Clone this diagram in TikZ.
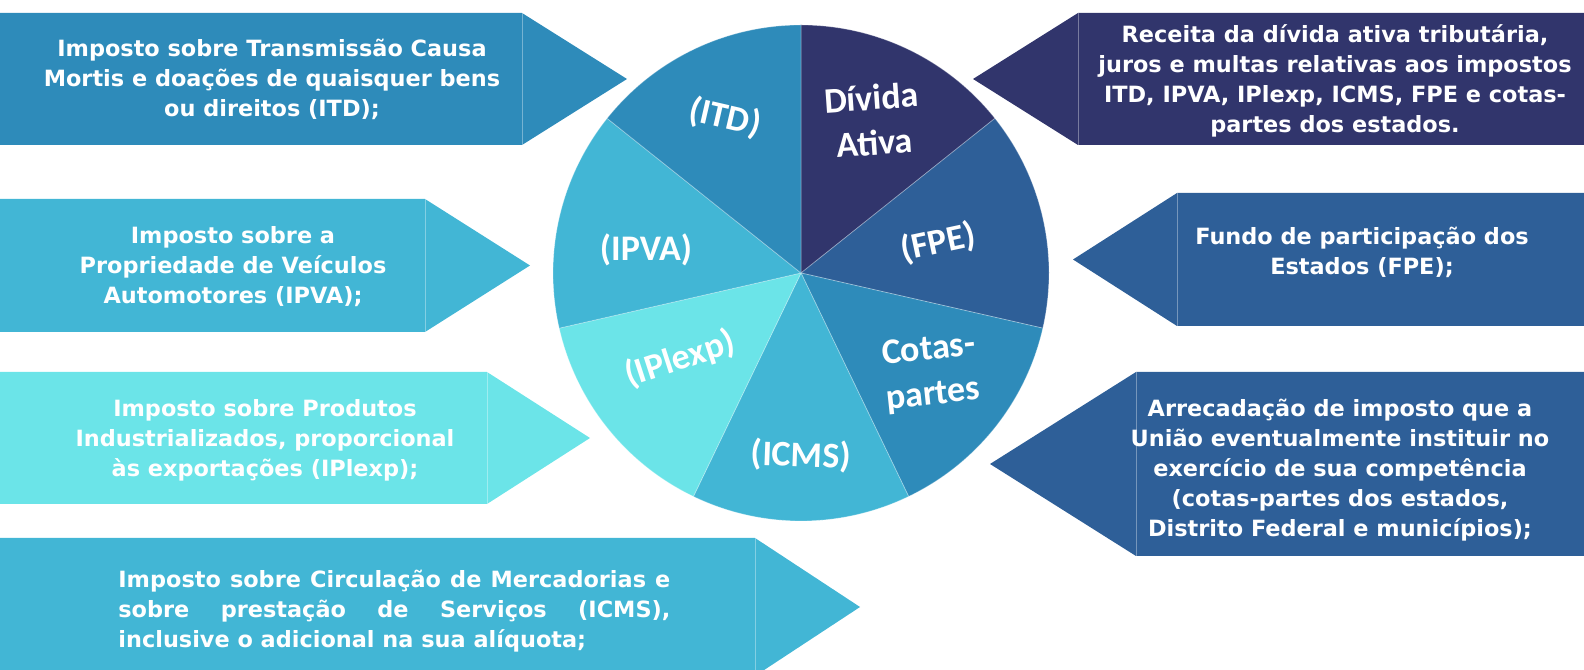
\documentclass[tikz,border=0pt]{standalone}
\usepackage{fontspec}
\newfontfamily\boxfamily{DejaVu Sans}
\newfontfamily\piefamily{Carlito}

\definecolor{cDA}{RGB}{49,53,108}
\definecolor{cFPE}{RGB}{46,95,152}
\definecolor{cITD}{RGB}{46,139,186}
\definecolor{cIPVA}{RGB}{66,182,213}
\definecolor{cIPI}{RGB}{107,228,232}

% Arrow box: x start, x end of body, x tip, y top, y bottom, colour.
\NewDocumentCommand{\taxarrow}{mmmmmm}{%
\fill[#6] (#1,#4) -- (#2,#4) -- (#3,{(#4+#5)/2}) -- (#2,#5) -- (#1,#5) -- cycle;%
\draw[white,opacity=0.35,line width=0.4pt] (#2,#4) -- (#2,#5);%
}

\begin{document}
\begin{tikzpicture}[x=0.5pt,y=0.5pt,
    boxtext/.style={text=white,inner sep=0pt,align=center,
        font=\boxfamily\bfseries\fontsize{11.2}{15}\selectfont},
    pielabel/.style={text=white,inner sep=0pt,align=center,
        font=\piefamily\bfseries\fontsize{18}{22.5}\selectfont}]
        \useasboundingbox (0,0) rectangle (1584,669);

        % Pie, seven equal slices from the top, clockwise.
        \coordinate (ctr) at (801,396);
        \foreach \c [count=\i from 0] in {cDA,cFPE,cITD,cIPVA,cIPI,cIPVA,cITD} {
            \pgfmathsetmacro{\angA}{90-\i*360/7}
            \pgfmathsetmacro{\angB}{90-(\i+1)*360/7}
            \fill[\c,draw=white,draw opacity=0.3,line width=0.4pt] (ctr) -- ++(\angA:248)
                arc[start angle=\angA,end angle=\angB,radius=124pt] -- cycle;
        }
        \node[pielabel,rotate=4] (lDA) at (873,549) {Dívida\\Ativa};
        \node[pielabel,rotate=12] (lFPE) at (938,426) {(FPE)};
        \node[pielabel,rotate=6] (lCP) at (931,296) {Cotas-\\partes};
        \node[pielabel,rotate=-2] (lICMS) at (801,213) {(ICMS)};
        \node[pielabel,rotate=18] (lIPI) at (680,310) {(IPlexp)};
        \node[pielabel] (lIPVA) at (646,419) {(IPVA)};
        \node[pielabel,rotate=-13] (lITD) at (725,551) {(ITD)};

        % Left boxes.
        \taxarrow{0}{522}{627}{656}{524}{cITD}
        \node[boxtext] (tITD) at (272,590) {Imposto sobre Transmissão Causa\\Mortis e doações de quaisquer bens\\ou direitos (ITD);};
        \taxarrow{0}{425}{530}{470}{337}{cIPVA}
        \node[boxtext] (tIPVA) at (233,402) {Imposto sobre a\\Propriedade de Veículos\\Automotores (IPVA);};
        \taxarrow{0}{487}{590}{297}{165}{cIPI}
        \node[boxtext] (tIPI) at (265,229) {Imposto sobre Produtos\\Industrializados, proporcional\\às exportações (IPlexp);};
        \taxarrow{0}{755}{860}{131}{-7}{cIPVA}
        \node[boxtext,align=justify,text width=276pt,anchor=west] (tICMS) at (118,58) {Imposto sobre Circulação de Mercadorias e\linebreak sobre prestação de Serviços (ICMS),\linebreak inclusive o adicional na sua alíquota;};

        % Right boxes.
        \taxarrow{1584}{1078}{973}{656}{524}{cDA}
        \node[boxtext] (tDA) at (1335,588) {Receita da dívida ativa tributária,\\juros e multas relativas aos impostos\\ITD, IPVA, IPlexp, ICMS, FPE e cotas-\\partes dos estados.};
        \taxarrow{1584}{1177}{1073}{476}{343}{cFPE}
        \node[boxtext] (tFPE) at (1362,417) {Fundo de participação dos\\Estados (FPE);};
        \taxarrow{1584}{1136}{990}{297}{113}{cFPE}
        \node[boxtext] (tCP) at (1340,199) {Arrecadação de imposto que a\\União eventualmente instituir no\\exercício de sua competência\\(cotas-partes dos estados,\\Distrito Federal e municípios);};
    \end{tikzpicture}
\end{document}
